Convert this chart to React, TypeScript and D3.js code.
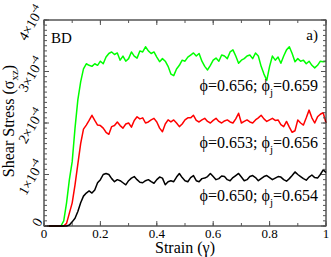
import React from "react";
import * as d3 from "d3";

// shear stress, in units of 1e-4, sampled every 0.01 of strain (0 .. 1)
const STRAIN_STEP = 0.01;

const phi656: number[] = [
  0, 0, 0, 0, 0, 0, 0, 0.1, 0.45, 0.9,
  1.25, 1.9, 2.45, 2.8, 3.05, 3.15, 3.12, 3.1, 3.15, 3.12,
  3.2, 3.15, 3.28, 3.35, 3.38, 3.33, 3.36, 3.22, 3.3, 3.2,
  3.25, 3.38, 3.3, 3.26, 3.4, 3.38, 3.48, 3.4, 3.35, 3.38,
  3.28, 3.19, 3.25, 3.2, 3.1, 2.95, 2.92, 3.05, 3.12, 3.22,
  3.2, 3.28, 3.32, 3.36, 3.3, 3.35, 3.2, 3.1, 3.03, 3.12,
  3.22, 3.26, 3.2, 3.32, 3.3, 3.25, 3.38, 3.42, 3.3, 3.16,
  3.22, 3.25, 3.3, 3.32, 3.25, 3.36, 3.3, 3.1, 2.95, 2.83,
  3.1, 3.3, 3.22, 3.28, 3.16, 3.3, 3.42, 3.48, 3.35, 3.19,
  3.25, 3.2, 3.22, 3.15, 3.2, 3.12, 3.07, 3.12, 3.2, 3.19,
  3.2,
];

const phi653: number[] = [
  0, 0, 0, 0, 0, 0, 0, 0, 0.05, 0.25,
  0.45, 0.8, 1.2, 1.6, 1.88, 1.96, 2.05, 2.15, 2.05, 1.96,
  1.95, 1.9, 1.82, 1.78, 1.93, 1.95, 2.02, 1.95, 1.9, 1.98,
  2.0, 1.92, 2.05, 2.12, 2.08, 2.1, 2.0, 2.02, 2.06, 2.09,
  2.02, 1.9, 1.83, 1.98, 2.06, 2.02, 2.06, 2.0, 1.93, 1.98,
  2.06, 2.1, 2.1, 2.15, 2.05, 2.02, 2.06, 2.09, 2.03, 2.0,
  2.05, 2.09, 2.03, 2.0, 2.04, 2.06, 2.02, 2.0, 2.08, 2.19,
  2.0, 2.03, 2.06, 2.02, 2.0, 2.06, 2.1, 2.15, 2.08, 2.03,
  2.06, 2.09, 2.05, 2.06, 1.97, 1.93, 2.03, 1.92, 1.82, 1.85,
  2.06, 2.0, 1.96, 2.1, 2.25, 2.1, 2.0, 2.12, 2.17, 2.2,
  2.0,
];

const phi650: number[] = [
  0, 0, 0, 0, 0, 0, 0, 0, 0, 0.02,
  0.08, 0.15, 0.28, 0.45, 0.58, 0.64, 0.68, 0.64, 0.7, 0.84,
  0.9, 1.0, 1.02, 1.0, 0.92, 0.86, 0.9, 0.88, 0.84, 0.8,
  0.88, 0.93, 0.96, 0.9, 0.85, 0.84, 0.88, 0.9, 0.86, 0.83,
  0.9, 0.95, 0.93, 0.8, 0.86, 0.88, 0.86, 0.95, 1.02, 0.94,
  0.88, 0.86, 0.94, 0.98, 0.88, 0.86, 0.92, 0.93, 0.96, 1.02,
  0.96, 0.9, 0.92, 0.97, 0.96, 0.9, 0.88, 0.94, 0.98, 1.02,
  0.95, 0.88, 0.9, 0.96, 0.98, 0.94, 0.88, 0.92, 0.96, 0.98,
  0.94, 0.9, 0.93, 0.96, 0.95, 0.9, 0.87, 0.92, 0.98, 1.05,
  1.0, 0.96, 0.92, 0.89, 0.95, 0.99, 0.94, 0.93, 1.0, 1.09,
  1.04,
];

const seriesColors = ["#00ff00", "#ff0000", "#000000"];
const seriesData = [phi656, phi653, phi650];
// label text and the stress level of its baseline
const labels = [
  { phi: "0.656", phij: "0.659", at: 2.62 },
  { phi: "0.653", phij: "0.656", at: 1.51 },
  { phi: "0.650", phij: "0.654", at: 0.485 },
];

const xMajor = [0, 0.2, 0.4, 0.6, 0.8, 1];
const xLabels = ["0", "0.2", "0.4", "0.6", "0.8", "1"];
const yMajor = [0, 1, 2, 3, 4];

const W = 331;
const H = 257;
const margin = { top: 20, right: 5, bottom: 31, left: 44 };
const FONT = "Liberation Serif, Times New Roman, Times, serif";

export default function App() {
  const x = d3.scaleLinear().domain([0, 1]).range([margin.left, W - margin.right]);
  const y = d3.scaleLinear().domain([0, 4]).range([H - margin.bottom, margin.top]);

  const line = d3
    .line<number>()
    .x((_, i) => x(i * STRAIN_STEP))
    .y((v) => y(v));

  const xMinor = d3.range(0, 1.001, 0.1);
  const yMinor = d3.range(0, 4.001, 0.1);
  const [x0, x1] = x.range();
  const [y0, y1] = y.range();

  return (
    <svg
      width={W}
      height={H}
      style={{ position: "absolute", left: 0, top: 0, background: "#fff", fontFamily: FONT }}
    >
      {seriesData.map((d, i) => (
        <path key={i} d={line(d) ?? ""} fill="none" stroke={seriesColors[i]} strokeWidth={1.5} strokeLinejoin="round" />
      ))}

      {/* frame */}
      <rect x={x0} y={y1} width={x1 - x0} height={y0 - y1} fill="none" stroke="#000" strokeWidth={1} />

      {/* x ticks, bottom and top, inward */}
      {xMinor.map((t, i) => (
        <g key={"xm" + i} stroke="#555" strokeWidth={1}>
          <line x1={x(t)} x2={x(t)} y1={y0} y2={y0 - 3} />
          <line x1={x(t)} x2={x(t)} y1={y1} y2={y1 + 3} />
        </g>
      ))}
      {xMajor.map((t, i) => (
        <g key={"xM" + i} stroke="#555" strokeWidth={1}>
          <line x1={x(t)} x2={x(t)} y1={y0} y2={y0 - 5} />
          <line x1={x(t)} x2={x(t)} y1={y1} y2={y1 + 5} />
        </g>
      ))}
      {xMajor.map((t, i) => (
        <text key={"xl" + i} x={x(t)} y={238} fontSize={13} textAnchor="middle">
          {xLabels[i]}
        </text>
      ))}

      {/* y ticks, left and right */}
      {yMinor.map((t, i) => (
        <g key={"ym" + i} stroke="#555" strokeWidth={1}>
          <line x1={x0} x2={x0 + 3} y1={y(t)} y2={y(t)} />
          <line x1={x1} x2={x1 - 3} y1={y(t)} y2={y(t)} />
        </g>
      ))}
      {yMajor.map((t, i) => (
        <g key={"yM" + i} stroke="#555" strokeWidth={1}>
          <line x1={x0} x2={x0 + 5} y1={y(t)} y2={y(t)} />
          <line x1={x1} x2={x1 - 5} y1={y(t)} y2={y(t)} />
        </g>
      ))}
      {yMajor.map((t, i) =>
        t === 0 ? (
          <text key={"yl" + i} transform={`translate(37,${y(t) - 4}) rotate(-60)`} fontSize={14} textAnchor="middle" dy="0.35em">
            0
          </text>
        ) : (
          <text key={"yl" + i} transform={`translate(31,${y(t) + 3}) rotate(-60)`} fontSize={14} textAnchor="middle" dy="0.35em">
            {t}×10<tspan dy={-6} fontSize={10}>-4</tspan>
          </text>
        )
      )}

      {/* axis titles */}
      <text x={(x0 + x1) / 2} y={253} fontSize={16} textAnchor="middle">
        Strain (γ)
      </text>
      <text transform={`translate(14,${(y0 + y1) / 2 - 2}) rotate(-90)`} fontSize={16} textAnchor="middle">
        Shear Stress (σ<tspan dy={4} fontSize={11}>xz</tspan>
        <tspan dy={-4}>)</tspan>
      </text>

      <text x={51} y={43} fontSize={15}>BD</text>
      <text x={318} y={40} fontSize={15} textAnchor="end">a)</text>

      {labels.map((l, i) => (
        <text key={"lab" + i} x={318} y={y(l.at)} fontSize={16} textAnchor="end">
          ϕ={l.phi}; ϕ<tspan dy={5} fontSize={11}>j</tspan>
          <tspan dy={-5}>={l.phij}</tspan>
        </text>
      ))}
    </svg>
  );
}
